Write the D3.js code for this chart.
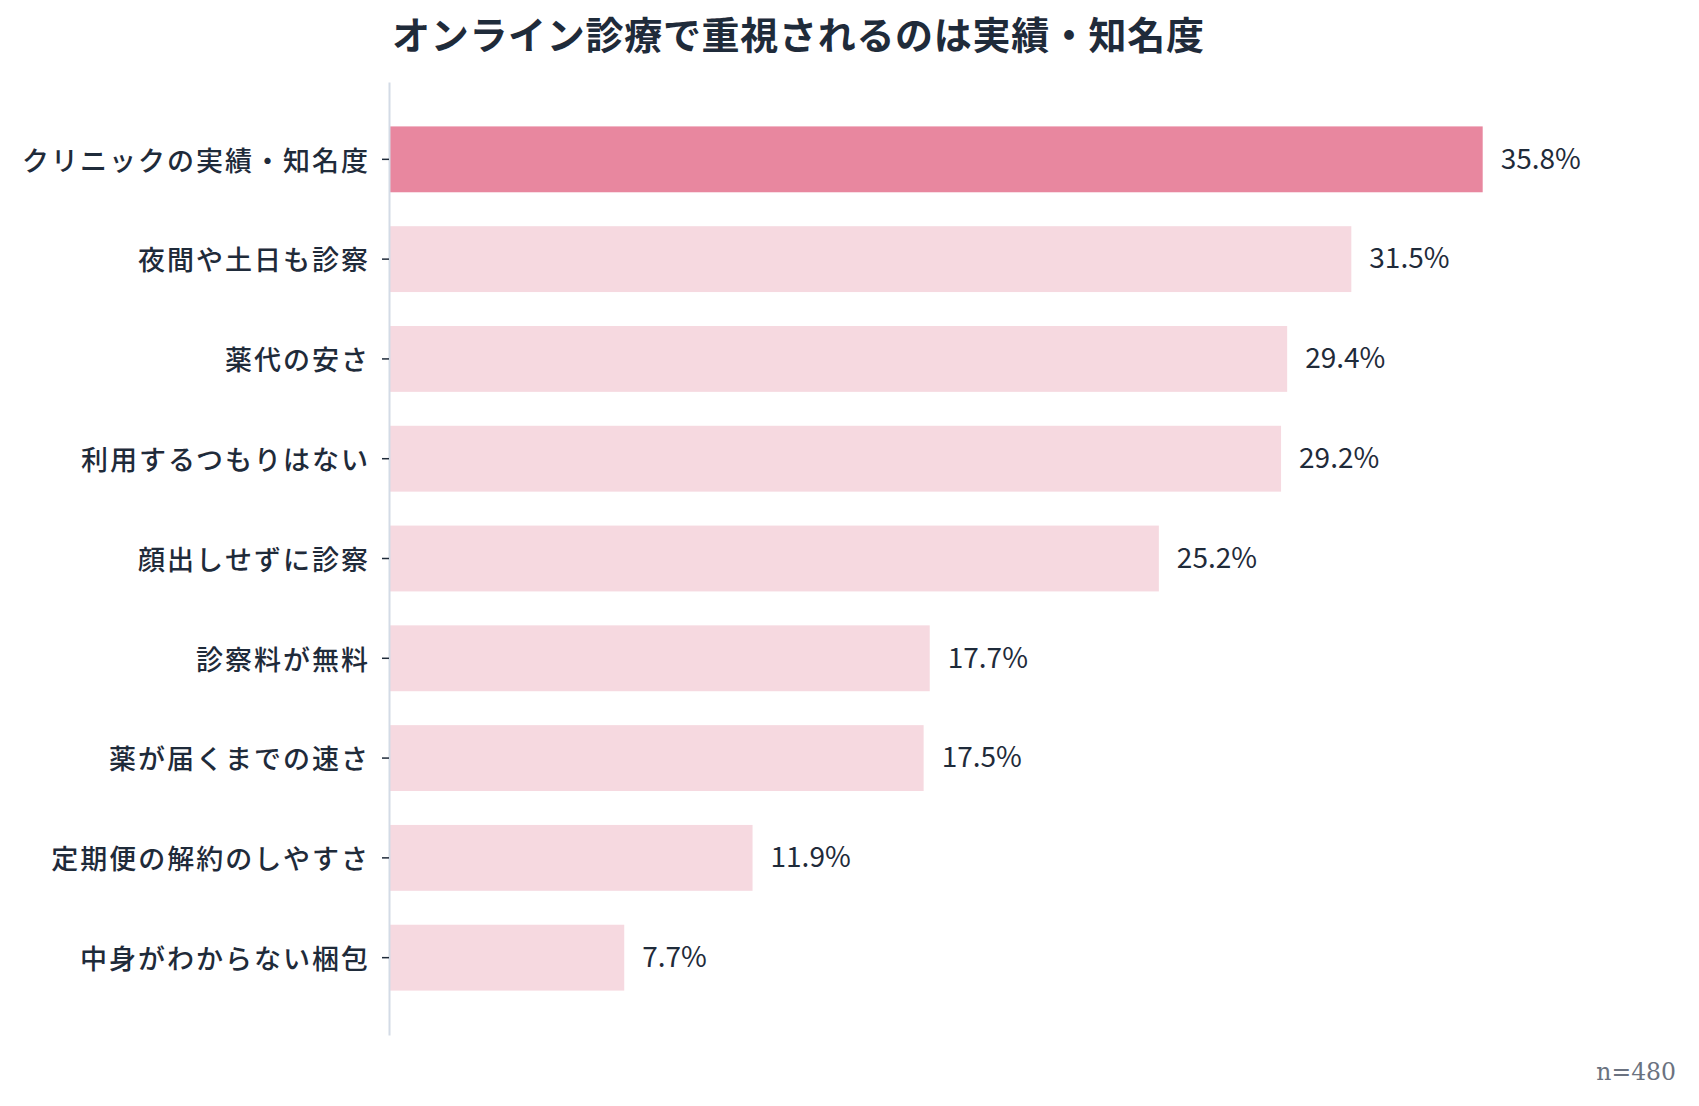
<!DOCTYPE html>
<html>
<head>
<meta charset="utf-8">
<script src="https://cdn.jsdelivr.net/npm/d3@7"></script>
<style>
  body { margin: 0; background: #fff; }
  text { font-family: "Noto Sans CJK JP", "Noto Sans", sans-serif; }
</style>
</head>
<body>
<script>
const width = 1699;
const height = 1106;

const categories = [
  'クリニックの実績・知名度',
  '夜間や土日も診察',
  '薬代の安さ',
  '利用するつもりはない',
  '顔出しせずに診察',
  '診察料が無料',
  '薬が届くまでの速さ',
  '定期便の解約のしやすさ',
  '中身がわからない梱包',
];
const values = [35.8, 31.5, 29.4, 29.2, 25.2, 17.7, 17.5, 11.9, 7.7];
const highlight = ['クリニックの実績・知名度'];

const title = 'オンライン診療で重視されるのは実績・知名度';
const note = 'n=480';

const data = categories.map((c, i) => ({ category: c, value: values[i] }));

const svg = d3.select('body')
  .append('svg')
    .attr('width', width)
    .attr('height', height)
    .attr('viewBox', [0, 0, width, height].join(' '));

const x = d3.scaleLinear()
  .domain([0, 40])
  .range([389, 1611]);

const y = d3.scaleBand()
  .domain(categories)
  .range([82, 1035])
  .paddingInner(0.34)
  .paddingOuter(0.445);

svg.append('text')
  .attr('x', 392)
  .attr('y', 49)
  .attr('fill', '#1f2b3a')
  .attr('font-size', 38)
  .attr('font-weight', 700)
  .attr('letter-spacing', 0.7)
  .text(title);

svg.selectAll('.bar')
  .data(data)
  .enter()
  .append('rect')
    .attr('class', 'bar')
    .attr('x', x(0))
    .attr('y', (d) => y(d.category))
    .attr('width', (d) => x(d.value) - x(0))
    .attr('height', y.bandwidth())
    .attr('fill', (d) => highlight.includes(d.category) ? '#e8879f' : '#f6d9e0');

svg.selectAll('.value')
  .data(data)
  .enter()
  .append('text')
    .attr('class', 'value')
    .attr('x', (d) => x(d.value) + 18)
    .attr('y', (d) => y(d.category) + y.bandwidth() / 2)
    .attr('dy', '0.33em')
    .attr('fill', '#1f2b3a')
    .attr('font-size', 28)
    .text((d) => d.value.toFixed(1) + '%');

const yAxis = d3.axisLeft(y)
  .tickSizeInner(7)
  .tickSizeOuter(0)
  .tickPadding(12);

const axis = svg.append('g')
  .attr('transform', `translate(${x(0)}, 0)`)
  .call(yAxis);

axis.select('.domain')
  .attr('stroke', '#d3dbe6')
  .attr('stroke-width', 2);

axis.selectAll('.tick line')
  .attr('stroke', '#1f2b3a')
  .attr('stroke-width', 1.5);

axis.selectAll('.tick text')
  .attr('fill', '#1f2b3a')
  .attr('font-size', 27)
  .attr('font-weight', 500)
  .attr('letter-spacing', 2)
  .attr('dy', '0.42em');

svg.append('text')
  .attr('x', 1676)
  .attr('y', 1080)
  .attr('text-anchor', 'end')
  .attr('fill', '#6b7280')
  .attr('font-size', 23.5)
  .style('font-family', '"DejaVu Serif", serif')
  .text(note);
</script>
</body>
</html>
